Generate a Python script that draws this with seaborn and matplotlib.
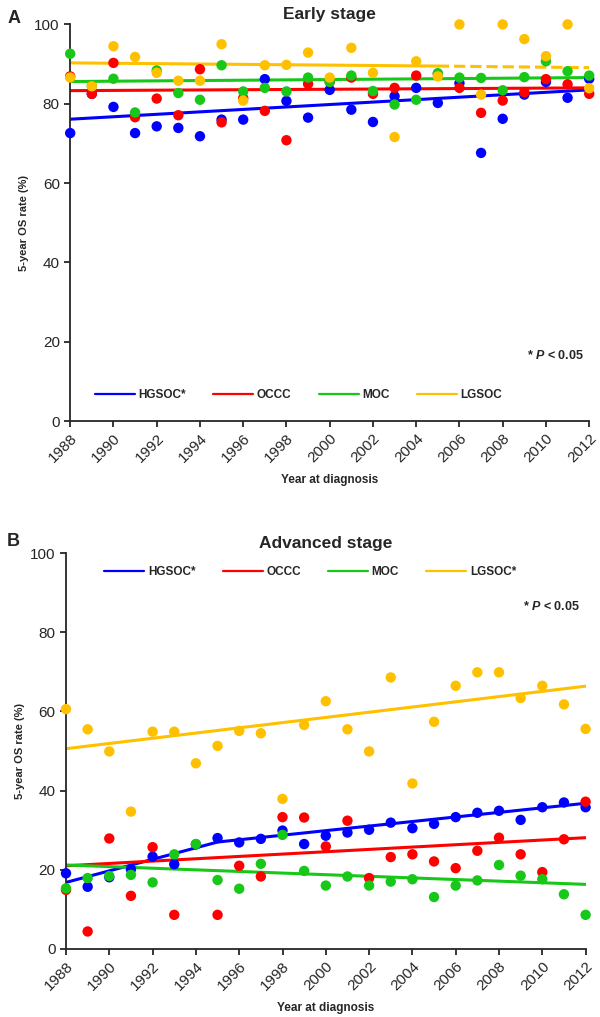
import numpy as np
import pandas as pd
import matplotlib
matplotlib.use("Agg")
import matplotlib.pyplot as plt
import seaborn as sns

sns.set_style("ticks")
plt.rcParams['font.family'] = ['Liberation Sans', 'DejaVu Sans']
plt.rcParams['mathtext.fontset'] = 'custom'
plt.rcParams['mathtext.bfit'] = 'Liberation Sans:bold:italic'

years = list(range(1988, 2013))
groups = ["HGSOC", "OCCC", "MOC", "LGSOC"]
colors = {"HGSOC": "#0000ff", "OCCC": "#ff0000", "MOC": "#18c818", "LGSOC": "#ffc000"}

# panel A: early stage, 5-year OS (%)
early_hgsoc = [72.6, 82.5, 79.2, 72.6, 74.3, 73.9, 71.8, 76.0, 76.0, 86.2, 80.7, 76.5, 83.5,
               78.5, 75.4, 81.9, 84.0, 80.2, 85.2, 67.6, 76.2, 82.3, 85.5, 81.5, 86.3]
early_occc = [86.9, 82.5, 90.3, 76.6, 81.3, 77.1, 88.7, 75.3, 81.4, 78.2, 70.8, 85.0, 85.5,
              86.6, 82.5, 84.0, 87.1, 87.5, 84.0, 77.7, 80.8, 82.9, 86.2, 84.9, 82.5]
early_moc = [92.6, 84.5, 86.3, 77.8, 88.4, 82.7, 81.0, 89.7, 83.1, 84.0, 83.1, 86.6, 85.5,
             87.1, 83.2, 79.8, 81.0, 87.7, 86.6, 86.5, 83.4, 86.7, 90.7, 88.2, 87.1]
early_lgsoc = [86.6, 84.4, 94.5, 91.8, 87.8, 85.8, 85.8, 95.0, 80.8, 89.7, 89.8, 92.9, 86.6,
               94.1, 87.8, 71.6, 90.7, 86.9, 100.0, 82.3, 100.0, 96.3, 92.0, 100.0, 83.9]

# panel B: advanced stage
adv_hgsoc = [19.1, 15.7, 18.1, 20.1, 23.3, 21.4, 26.4, 28.0, 26.9, 27.8, 29.9, 26.5, 28.6,
             29.4, 30.1, 31.9, 30.5, 31.6, 33.3, 34.4, 34.9, 32.6, 35.8, 37.0, 35.8]
adv_occc = [14.9, 4.4, 27.9, 13.4, 25.7, 8.6, np.nan, 8.6, 21.0, 18.3, 33.3, 33.2, 25.9,
            32.4, 17.9, 23.2, 23.9, 22.1, 20.4, 24.8, 28.1, 23.9, 19.4, 27.7, 37.2]
adv_moc = [15.3, 17.9, 18.4, 18.7, 16.8, 23.9, 26.5, 17.4, 15.2, 21.5, 28.8, 19.7, 16.0,
           18.3, 16.0, 17.0, 17.6, 13.1, 16.0, 17.3, 21.2, 18.5, 17.6, 13.8, 8.6]
adv_lgsoc = [60.6, 55.5, 49.9, 34.7, 54.9, 54.9, 46.9, 51.3, 55.1, 54.5, 37.9, 56.6, 62.6,
             55.5, 49.9, 68.6, 41.8, 57.4, 66.5, 69.9, 69.9, 63.4, 66.5, 61.8, 55.6]

# fitted trend lines (joinpoint knots)
early_trend = {
    "HGSOC": ([1988, 2012], [76.1, 83.5], "solid"),
    "OCCC": ([1988, 2012], [83.3, 84.0], "solid"),
    "MOC": ([1988, 2012], [85.6, 86.6], "solid"),
    "LGSOC": ([1988, 2005], [90.3, 89.5], "solid"),
    "LGSOC_ext": ([2005, 2012], [89.5, 89.1], "dashed"),
}
adv_trend = {
    "HGSOC": ([1988, 1995, 2012], [16.8, 27.0, 36.8], "solid"),
    "OCCC": ([1988, 2012], [21.0, 28.1], "solid"),
    "MOC": ([1988, 2012], [21.2, 16.3], "solid"),
    "LGSOC": ([1988, 2012], [50.6, 66.4], "solid"),
}

early_labels = ["HGSOC*", "OCCC", "MOC", "LGSOC"]
adv_labels = ["HGSOC*", "OCCC", "MOC", "LGSOC*"]


def points_df(series):
    rows = []
    for g, vals in zip(groups, series):
        for y, v in zip(years, vals):
            rows.append({"year": y, "rate": v, "group": g})
    return pd.DataFrame(rows).dropna()


def draw_panel(ax, series, trend, labels, title, legend_xy, ptext_y):
    # trend lines first so points sit on top
    for key, (xs, ys, ls) in trend.items():
        g = key.split("_")[0]
        tdf = pd.DataFrame({"year": xs, "rate": ys})
        sns.lineplot(data=tdf, x="year", y="rate", ax=ax, color=colors[g],
                     linewidth=2.2, linestyle="--" if ls == "dashed" else "-",
                     dashes=(3, 2) if ls == "dashed" else "", zorder=2)
    df = points_df(series)
    sns.scatterplot(data=df, x="year", y="rate", hue="group", palette=colors,
                    hue_order=groups, s=56, edgecolor="none", ax=ax,
                    legend=False, clip_on=False, zorder=3)

    handles = [plt.Line2D([], [], color=colors[g], lw=1.6) for g in groups]
    ax.legend(handles, labels, loc="center", bbox_to_anchor=legend_xy, ncol=4,
              frameon=False, handlelength=3.4, handletextpad=0.3, columnspacing=2.3,
              prop={"weight": "bold", "size": 8.5})
    ax.text(0.99, ptext_y, r"* $\boldsymbol{P}$ < 0.05", transform=ax.transAxes,
            ha="right", va="center", fontsize=9, fontweight="bold")

    ax.set_xlim(1988, 2012)
    ax.set_ylim(0, 100)
    ax.set_xticks(range(1988, 2013, 2))
    ax.set_yticks(range(0, 101, 20))
    ax.tick_params(axis="x", labelrotation=45, labelsize=11, length=4, width=1.3)
    ax.tick_params(axis="y", labelsize=11, length=4, width=1.3)
    for lab in ax.get_xticklabels():
        lab.set_ha("right")
        lab.set_rotation_mode("anchor")
    for sp in ["left", "bottom"]:
        ax.spines[sp].set_linewidth(1.3)
    sns.despine(ax=ax)
    ax.set_xlabel("Year at diagnosis", fontsize=8.5, fontweight="bold", labelpad=6)
    ax.set_ylabel("5-year OS rate (%)", fontsize=8, fontweight="bold", labelpad=4)
    ax.set_title(title, fontsize=12.5, fontweight="bold", pad=4)


fig = plt.figure(figsize=(6, 10.17), dpi=100)
ax1 = fig.add_axes([0.117, 0.586, 0.865, 0.39])
ax2 = fig.add_axes([0.110, 0.067, 0.866, 0.389])

draw_panel(ax1, [early_hgsoc, early_occc, early_moc, early_lgsoc], early_trend,
           early_labels, "Early stage", (0.44, 0.065), 0.165)
draw_panel(ax2, [adv_hgsoc, adv_occc, adv_moc, adv_lgsoc], adv_trend,
           adv_labels, "Advanced stage", (0.47, 0.953), 0.865)

fig.text(0.012, 0.982, "A", fontsize=13, fontweight="bold", va="center")
fig.text(0.012, 0.468, "B", fontsize=13, fontweight="bold", va="center")

fig.savefig("out.png", dpi=100)
